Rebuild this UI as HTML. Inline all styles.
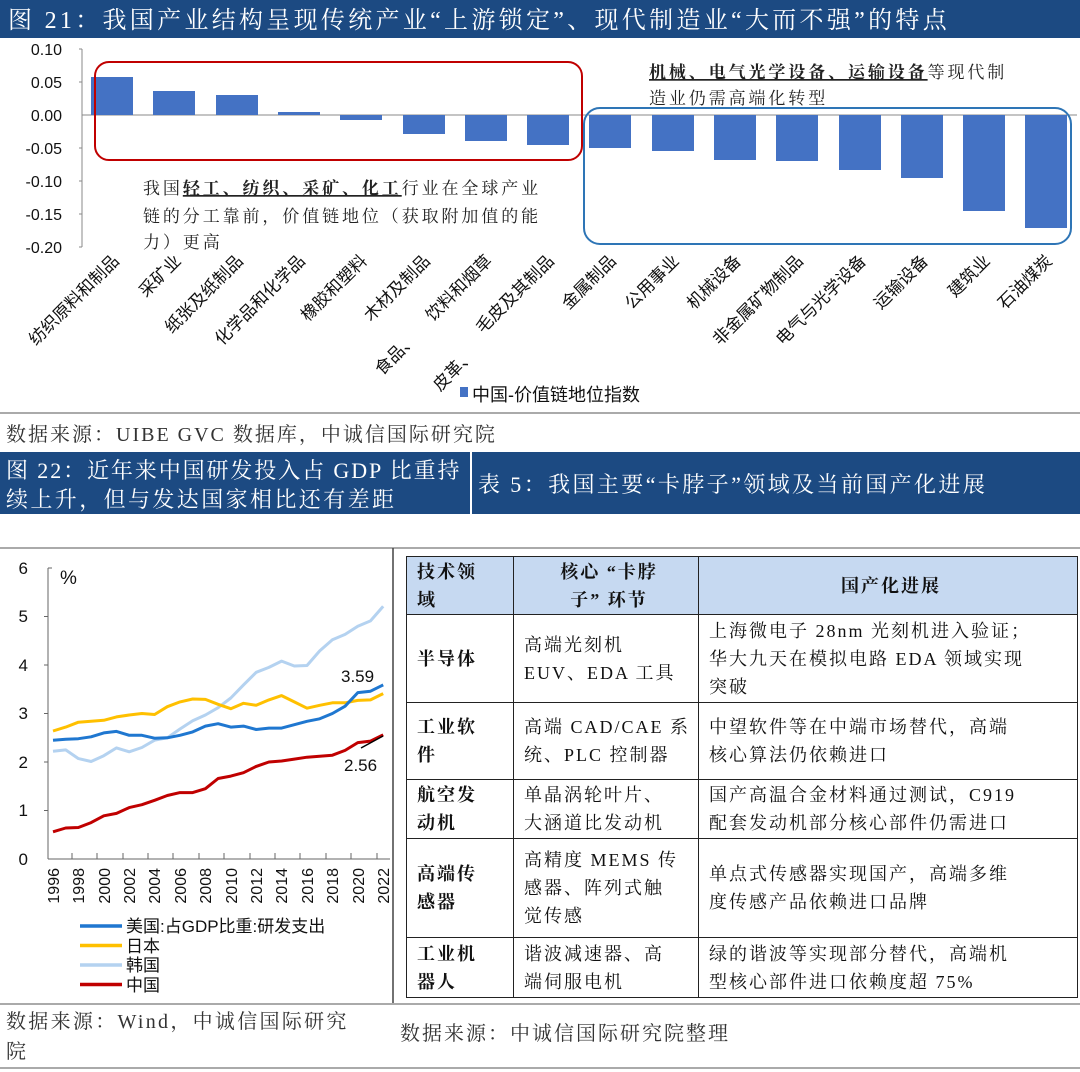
<!DOCTYPE html>
<html><head><meta charset="utf-8"><style>
body{margin:0;width:1080px;height:1072px;background:#fff;position:relative;overflow:hidden;font-family:"Liberation Serif","Noto Serif CJK SC",serif;}
.abs{position:absolute}
table{border-collapse:collapse;font-family:"Liberation Serif","Noto Serif CJK SC",serif;font-size:18px;letter-spacing:2px;color:#111}
td{border:1.5px solid #222;vertical-align:middle;padding:0 4px 0 10px;line-height:28px}
td.b{font-weight:bold}
tr.h td{background:#c6d9f1;font-weight:bold}
</style></head><body>
<svg class="abs" style="left:0;top:0" width="1080" height="1072" xmlns="http://www.w3.org/2000/svg">
<rect x="0" y="0" width="1080" height="38" fill="#1c4a82"/>
<text x="8" y="28" fill="#fff" font-size="24" letter-spacing="3.3" font-family="Liberation Serif,Noto Serif CJK SC,serif">图 21：我国产业结构呈现传统产业“上游锁定”、现代制造业“大而不强”的特点</text>
<g font-family="Liberation Sans,sans-serif" font-size="16" fill="#111" text-anchor="end">
<text x="62" y="55">0.10</text><text x="62" y="88">0.05</text><text x="62" y="121">0.00</text><text x="62" y="154">-0.05</text><text x="62" y="187">-0.10</text><text x="62" y="220">-0.15</text><text x="62" y="253">-0.20</text>
</g>
<g stroke="#888" stroke-width="1">
<line x1="82" y1="49" x2="82" y2="247"/>
<line x1="79" y1="49" x2="82" y2="49"/><line x1="79" y1="82" x2="82" y2="82"/><line x1="79" y1="148" x2="82" y2="148"/><line x1="79" y1="181" x2="82" y2="181"/><line x1="79" y1="214" x2="82" y2="214"/><line x1="79" y1="247" x2="82" y2="247"/>
<line x1="82" y1="115" x2="1077" y2="115"/>
</g>
<g fill="#4472c4">
<rect x="91" y="77" width="42" height="38"/>
<rect x="153" y="91" width="42" height="24"/>
<rect x="216" y="95" width="42" height="20"/>
<rect x="278" y="112" width="42" height="3"/>
<rect x="340" y="115" width="42" height="5"/>
<rect x="403" y="115" width="42" height="19"/>
<rect x="465" y="115" width="42" height="26"/>
<rect x="527" y="115" width="42" height="30"/>
<rect x="589" y="115" width="42" height="33"/>
<rect x="652" y="115" width="42" height="36"/>
<rect x="714" y="115" width="42" height="45"/>
<rect x="776" y="115" width="42" height="46"/>
<rect x="839" y="115" width="42" height="55"/>
<rect x="901" y="115" width="42" height="63"/>
<rect x="963" y="115" width="42" height="96"/>
<rect x="1025" y="115" width="42" height="113"/>
</g>
<rect x="95" y="62" width="487" height="98" rx="14" fill="none" stroke="#c00000" stroke-width="2"/>
<rect x="584" y="108" width="487" height="136" rx="16" fill="none" stroke="#2e75b6" stroke-width="2"/>
<g font-size="17" letter-spacing="2.9" fill="#222" font-family="Liberation Serif,Noto Serif CJK SC,serif">
<text x="143" y="194">我国<tspan font-weight="bold" text-decoration="underline">轻工、纺织、采矿、化工</tspan>行业在全球产业</text>
<text x="143" y="222">链的分工靠前，价值链地位（获取附加值的能</text>
<text x="143" y="248">力）更高</text>
<text x="649" y="78"><tspan font-weight="bold" text-decoration="underline">机械、电气光学设备、运输设备</tspan>等现代制</text>
<text x="649" y="104">造业仍需高端化转型</text>
</g>
<g font-size="17" fill="#111" font-family="Liberation Sans,Noto Sans CJK SC,sans-serif" text-anchor="end">
<text transform="translate(120,262) rotate(-45)">纺织原料和制品</text>
<text transform="translate(182,262) rotate(-45)">采矿业</text>
<text transform="translate(244,262) rotate(-45)">纸张及纸制品</text>
<text transform="translate(306,262) rotate(-45)">化学品和化学品</text>
<text transform="translate(368,262) rotate(-45)">橡胶和塑料</text>
<text transform="translate(431,262) rotate(-45)">木材及制品</text>
<text transform="translate(493,262) rotate(-45)">饮料和烟草</text>
<text transform="translate(418,340) rotate(-45)">食品、</text>
<text transform="translate(555,262) rotate(-45)">毛皮及其制品</text>
<text transform="translate(476,356) rotate(-45)">皮革、</text>
<text transform="translate(617,262) rotate(-45)">金属制品</text>
<text transform="translate(680,262) rotate(-45)">公用事业</text>
<text transform="translate(742,262) rotate(-45)">机械设备</text>
<text transform="translate(804,262) rotate(-45)">非金属矿物制品</text>
<text transform="translate(867,262) rotate(-45)">电气与光学设备</text>
<text transform="translate(929,262) rotate(-45)">运输设备</text>
<text transform="translate(991,262) rotate(-45)">建筑业</text>
<text transform="translate(1053,262) rotate(-45)">石油煤炭</text>
</g>
<rect x="460" y="387" width="8" height="10" fill="#4472c4"/>
<text x="472" y="401" font-size="18" font-family="Liberation Sans,Noto Sans CJK SC,sans-serif" fill="#111">中国-价值链地位指数</text>
<line x1="0" y1="413" x2="1080" y2="413" stroke="#aaa" stroke-width="2"/>
<text x="6" y="441" font-size="20" letter-spacing="2" fill="#333">数据来源：UIBE GVC 数据库，中诚信国际研究院</text>
<rect x="0" y="452" width="1080" height="62" fill="#1c4a82"/>
<line x1="471" y1="452" x2="471" y2="514" stroke="#fff" stroke-width="2"/>
<g fill="#fff" font-size="22">
<text x="6" y="478" letter-spacing="1.9">图 22：近年来中国研发投入占 GDP 比重持</text>
<text x="6" y="507" letter-spacing="2.4">续上升，但与发达国家相比还有差距</text>
<text x="478" y="492" letter-spacing="2.4">表 5：我国主要“卡脖子”领域及当前国产化进展</text>
</g>
<line x1="0" y1="548" x2="1080" y2="548" stroke="#aaa" stroke-width="2"/>
<line x1="393" y1="548" x2="393" y2="1004" stroke="#444" stroke-width="1.5"/>
<line x1="0" y1="1004" x2="1080" y2="1004" stroke="#aaa" stroke-width="2"/>
<line x1="0" y1="1068" x2="1080" y2="1068" stroke="#aaa" stroke-width="2"/>
<g font-family="Liberation Sans,sans-serif" font-size="17" fill="#111" text-anchor="end">
<text x="28" y="574">6</text><text x="28" y="622">5</text><text x="28" y="671">4</text><text x="28" y="719">3</text><text x="28" y="768">2</text><text x="28" y="816">1</text><text x="28" y="865">0</text>
</g>
<text x="60" y="584" font-family="Liberation Sans,sans-serif" font-size="19" fill="#111">%</text>
<g stroke="#666" stroke-width="1">
<line x1="48" y1="568" x2="48" y2="859"/><line x1="48" y1="859" x2="390" y2="859"/>
<line x1="48" y1="568" x2="52" y2="568"/>
<line x1="44" y1="616.5" x2="48" y2="616.5"/><line x1="44" y1="665" x2="48" y2="665"/><line x1="44" y1="713.5" x2="48" y2="713.5"/><line x1="44" y1="762" x2="48" y2="762"/><line x1="44" y1="810.5" x2="48" y2="810.5"/>
<line x1="72" y1="853" x2="72" y2="859"/><line x1="97" y1="853" x2="97" y2="859"/><line x1="123" y1="853" x2="123" y2="859"/><line x1="148" y1="853" x2="148" y2="859"/><line x1="173" y1="853" x2="173" y2="859"/><line x1="199" y1="853" x2="199" y2="859"/><line x1="224" y1="853" x2="224" y2="859"/><line x1="250" y1="853" x2="250" y2="859"/><line x1="275" y1="853" x2="275" y2="859"/><line x1="300" y1="853" x2="300" y2="859"/><line x1="326" y1="853" x2="326" y2="859"/><line x1="351" y1="853" x2="351" y2="859"/><line x1="377" y1="853" x2="377" y2="859"/>
</g>
<g font-family="Liberation Sans,sans-serif" font-size="16" fill="#111" text-anchor="end">
<text transform="translate(59,868) rotate(-90)">1996</text>
<text transform="translate(84,868) rotate(-90)">1998</text>
<text transform="translate(110,868) rotate(-90)">2000</text>
<text transform="translate(135,868) rotate(-90)">2002</text>
<text transform="translate(160,868) rotate(-90)">2004</text>
<text transform="translate(186,868) rotate(-90)">2006</text>
<text transform="translate(211,868) rotate(-90)">2008</text>
<text transform="translate(237,868) rotate(-90)">2010</text>
<text transform="translate(262,868) rotate(-90)">2012</text>
<text transform="translate(287,868) rotate(-90)">2014</text>
<text transform="translate(313,868) rotate(-90)">2016</text>
<text transform="translate(338,868) rotate(-90)">2018</text>
<text transform="translate(364,868) rotate(-90)">2020</text>
<text transform="translate(389,868) rotate(-90)">2022</text>
</g>
<g fill="none" stroke-width="3" stroke-linejoin="round">
<polyline stroke="#b4d2f0" points="53,751.3 65.7,749.9 78.4,758.6 91.1,761.5 103.8,755.7 116.5,747.9 129.2,751.8 141.9,747.5 154.6,740.2 167.3,737.8 180,729 192.7,720.8 205.4,715 218.1,707.7 230.8,698 243.5,684.9 256.2,672.3 268.9,667.4 281.6,661.1 294.3,666 307,665.5 319.7,650.9 332.4,639.8 345.1,634.4 357.8,626.2 370.5,620.9 383.2,606.3"/>
<polyline stroke="#ffc000" points="53,731 65.7,727.1 78.4,722.2 91.1,721.3 103.8,720.3 116.5,716.9 129.2,715 141.9,713.5 154.6,714.5 167.3,706.7 180,701.9 192.7,699 205.4,699.4 218.1,704.3 230.8,708.7 243.5,703.3 256.2,705.3 268.9,699.9 281.6,695.6 294.3,701.9 307,708.2 319.7,705.3 332.4,702.8 345.1,702.8 357.8,700.4 370.5,699.9 383.2,693.6"/>
<polyline stroke="#1f77d0" points="53,740.2 65.7,739.2 78.4,738.7 91.1,736.8 103.8,732.9 116.5,731.4 129.2,735.3 141.9,735.3 154.6,738.2 167.3,737.8 180,735.3 192.7,731.9 205.4,726.1 218.1,723.7 230.8,727.1 243.5,726.1 256.2,729.5 268.9,728.1 281.6,728.1 294.3,724.7 307,721.3 319.7,718.8 332.4,713.5 345.1,706.2 357.8,692.6 370.5,691.2 383.2,684.9"/>
<polyline stroke="#c00000" points="53,831.8 65.7,828 78.4,827.5 91.1,822.6 103.8,815.8 116.5,813.4 129.2,807.6 141.9,804.7 154.6,800.3 167.3,795.5 180,792.6 192.7,792.6 205.4,788.7 218.1,778.5 230.8,776.1 243.5,772.7 256.2,766.4 268.9,762 281.6,761 294.3,759.1 307,757.2 319.7,756.2 332.4,755.2 345.1,750.4 357.8,742.6 370.5,741.1 383.2,734.8"/>
</g>
<line x1="361" y1="748" x2="383" y2="736" stroke="#000" stroke-width="1.5"/>
<g font-family="Liberation Sans,sans-serif" font-size="17" fill="#111">
<text x="341" y="682">3.59</text><text x="344" y="771">2.56</text>
</g>
<g stroke-width="3.5">
<line x1="80" y1="926" x2="122" y2="926" stroke="#1f77d0"/>
<line x1="80" y1="945.5" x2="122" y2="945.5" stroke="#ffc000"/>
<line x1="80" y1="965" x2="122" y2="965" stroke="#b4d2f0"/>
<line x1="80" y1="984.5" x2="122" y2="984.5" stroke="#c00000"/>
</g>
<g font-family="Liberation Sans,Noto Sans CJK SC,sans-serif" font-size="17" fill="#111">
<text x="126" y="932">美国:占GDP比重:研发支出</text><text x="126" y="952">日本</text><text x="126" y="971">韩国</text><text x="126" y="991">中国</text>
</g>
<text x="6" y="1028" font-size="20" letter-spacing="2.3" fill="#333">数据来源：Wind，中诚信国际研究</text>
<text x="6" y="1058" font-size="20" fill="#333">院</text>
<text x="400" y="1040" font-size="20" letter-spacing="2" fill="#333">数据来源：中诚信国际研究院整理</text>
</svg>
<table class="abs" style="left:406px;top:556px;width:672px">
<tr class="h" style="height:58px"><td style="width:92px">技术领<br>域</td><td style="width:170px;text-align:center">核心 “卡脖<br>子” 环节</td><td style="text-align:center">国产化进展</td></tr>
<tr style="height:88px"><td class="b">半导体</td><td>高端光刻机<br>EUV、EDA 工具</td><td>上海微电子 28nm 光刻机进入验证；<br>华大九天在模拟电路 EDA 领域实现<br>突破</td></tr>
<tr style="height:77px"><td class="b">工业软<br>件</td><td>高端 CAD/CAE 系<br>统、PLC 控制器</td><td>中望软件等在中端市场替代，高端<br>核心算法仍依赖进口</td></tr>
<tr style="height:59px"><td class="b">航空发<br>动机</td><td>单晶涡轮叶片、<br>大涵道比发动机</td><td>国产高温合金材料通过测试，C919<br>配套发动机部分核心部件仍需进口</td></tr>
<tr style="height:99px"><td class="b">高端传<br>感器</td><td>高精度 MEMS 传<br>感器、阵列式触<br>觉传感</td><td>单点式传感器实现国产，高端多维<br>度传感产品依赖进口品牌</td></tr>
<tr style="height:60px"><td class="b">工业机<br>器人</td><td>谐波减速器、高<br>端伺服电机</td><td>绿的谐波等实现部分替代，高端机<br>型核心部件进口依赖度超 75%</td></tr>
</table>
</body></html>
